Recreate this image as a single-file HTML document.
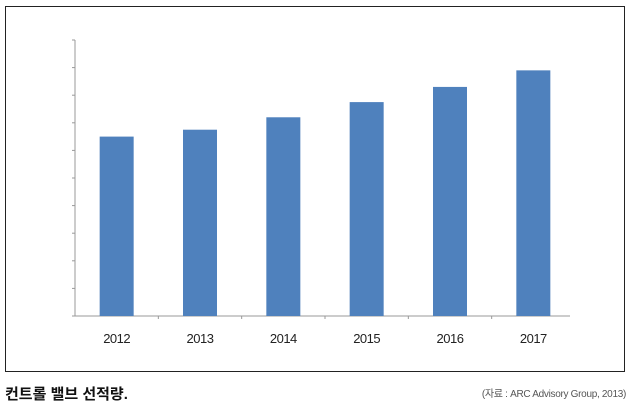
<!DOCTYPE html>
<html><head><meta charset="utf-8">
<style>
body{margin:0;width:634px;height:408px;background:#fff;overflow:hidden;font-family:"Liberation Sans","Noto Sans CJK KR",sans-serif;}
#frame{position:absolute;left:5px;top:6px;width:620px;height:366px;border:1px solid #222;box-sizing:border-box;}
#cap{position:absolute;left:5px;top:383px;font-size:15px;font-weight:bold;color:#111;font-family:"Liberation Sans","Noto Sans CJK KR",sans-serif;}
#src{position:absolute;right:8px;top:385px;font-size:10px;color:#555;letter-spacing:-0.3px;}
svg{position:absolute;left:0;top:0;}
</style></head><body>
<div id="frame"></div>
<svg id="chart" width="634" height="408"></svg>
<div id="cap">컨트롤 밸브 선적량.</div>
<div id="src">(자료 : ARC Advisory Group, 2013)</div>
<script>
const categories=["2012","2013","2014","2015","2016","2017"];
const values=[6.5,6.75,7.2,7.75,8.3,8.9];
const yTicks=[0,1,2,3,4,5,6,7,8,9,10];
const NS="http://www.w3.org/2000/svg";
const svg=document.getElementById('chart');
const x0=75,x1=575,yBase=316,yTop=40,yMax=10;
const band=(x1-x0)/categories.length;
const y=v=>yBase-(v/yMax)*(yBase-yTop);
const xc=i=>x0+band*(i+0.5);
function mk(t,a){const e=document.createElementNS(NS,t);for(const k in a)e.setAttribute(k,a[k]);svg.appendChild(e);return e;}
const ya=mk('line',{x1:x0,y1:yTop,x2:x0,y2:yBase,stroke:'#999','stroke-width':1});


yTicks.forEach(t=>{const l=mk('line',{x1:x0-3,y1:y(t),x2:x0,y2:y(t),stroke:'#999','stroke-width':1});

});
const xa=mk('line',{x1:x0-3,y1:yBase,x2:x1-5,y2:yBase,stroke:'#999','stroke-width':1});


for(let i=1;i<categories.length;i++){const l=mk('line',{x1:x0+band*i,y1:yBase,x2:x0+band*i,y2:yBase+3,stroke:'#999'});

}
categories.forEach((c,i)=>{
const r=mk('rect',{x:xc(i)-17,y:y(values[i]),width:34,height:yBase-y(values[i]),fill:'#4f81bd'});


const t=mk('text',{x:xc(i),y:343,'text-anchor':'middle','font-size':13,fill:'#222','font-family':'Liberation Sans, sans-serif','letter-spacing':'-0.5'});
t.textContent=c;


});
</script>
</body></html>
